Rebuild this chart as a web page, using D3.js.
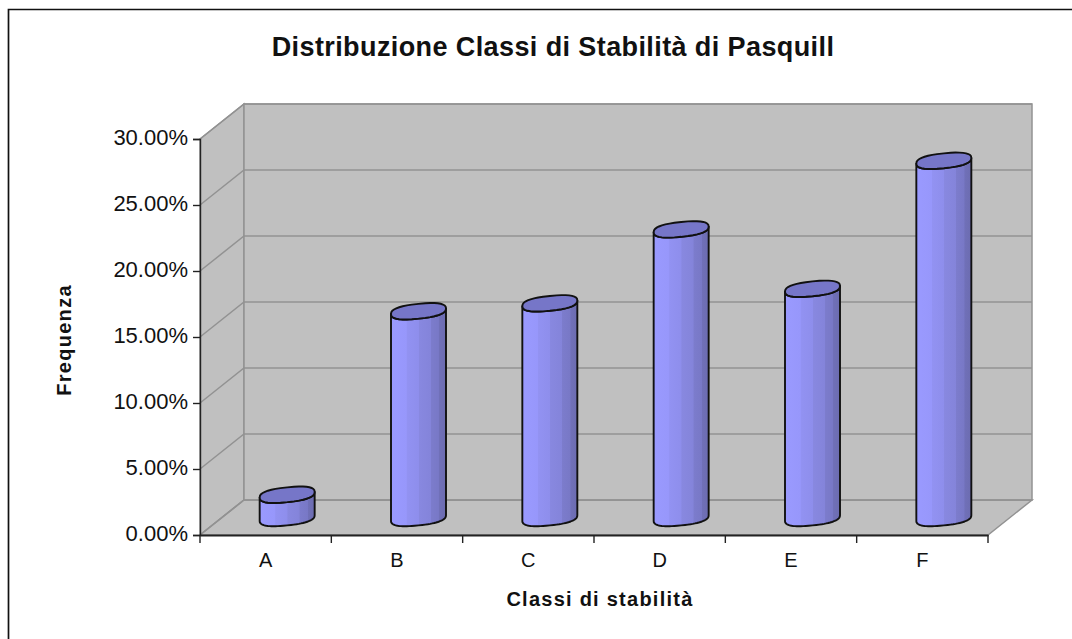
<!DOCTYPE html>
<html><head><meta charset="utf-8">
<style>html,body{margin:0;padding:0;background:#fff}svg{display:block}text{font-family:"Liberation Sans",Arial,sans-serif;fill:#111}</style>
<script src="https://cdn.jsdelivr.net/npm/d3@7"></script></head>
<body><svg id="c" width="1072" height="639"></svg>
<script>
const categories=["A","B","C","D","E","F"];
const frequencies=[1.8,15.7,16.3,21.9,17.4,27.1];
const yTicks=[0,5,10,15,20,25,30];
const titleText="Distribuzione Classi di Stabilità di Pasquill";
const xTitle="Classi di stabilità";
const yTitle="Frequenza";

const svg=d3.select("#c");
const x0=200,x1=988,yB=535,yT=139,dx=44,dy=-35;
const x=d3.scaleBand().domain(categories).range([x0,x1]);
const y=d3.scaleLinear().domain([0,30]).range([yB,yT]);

svg.append("path").attr("d","M8.5,640V9.5H1073").attr("fill","none").attr("stroke","#111").attr("stroke-width",1.7);

const defs=svg.append("defs");
const g=defs.append("linearGradient").attr("id","cyl");
[[0,"#9a9aff"],[.28,"#9797fb"],[.29,"#9292f2"],[.5,"#8e8eec"],[.51,"#8888e0"],[.72,"#8484da"],[.73,"#7c7ccc"],[.87,"#7878c6"],[.88,"#7070b8"],[1,"#6c6cb0"]].forEach(s=>g.append("stop").attr("offset",s[0]).attr("stop-color",s[1]));

const wall="#c0c0c0",edge="#929292";
const poly=p=>"M"+p.map(a=>a.join(",")).join("L")+"Z";
svg.append("path").attr("d",poly([[x0,yT],[x0+dx,yT+dy],[x0+dx,yB+dy],[x0,yB]])).attr("fill",wall).attr("stroke",edge).attr("stroke-width",1.5);
svg.append("path").attr("d",poly([[x0,yB],[x1,yB],[x1+dx,yB+dy],[x0+dx,yB+dy]])).attr("fill",wall).attr("stroke",edge).attr("stroke-width",1.5);
svg.append("path").attr("d",poly([[x0+dx,yT+dy],[x1+dx,yT+dy],[x1+dx,yB+dy],[x0+dx,yB+dy]])).attr("fill",wall).attr("stroke",edge).attr("stroke-width",1.5);
yTicks.forEach(t=>{
  svg.append("path").attr("d",`M${x0},${y(t)}L${x0+dx},${y(t)+dy}H${x1+dx}`).attr("fill","none").attr("stroke",edge).attr("stroke-width",1.5);
});

// axes
const axisY=d3.axisLeft(y).tickValues(yTicks).tickSize(7).tickPadding(5).tickFormat(d=>d.toFixed(2)+"%");
const gy=svg.append("g").attr("transform",`translate(${x0},0)`).call(axisY);
gy.selectAll("text").attr("font-size",22).attr("fill","#1a1a1a").attr("dy","0.24em");
gy.selectAll("line,path").attr("stroke","#222").attr("stroke-width",1.4);
const gx=svg.append("g").attr("transform",`translate(0,${yB})`).call(
  d3.axisBottom(x).tickSize(0).tickPadding(18));
gx.selectAll("text").attr("font-size",20).attr("fill","#1a1a1a");
gx.selectAll(".domain").attr("stroke","#222").attr("stroke-width",1.8);
categories.concat("_").forEach((c,i)=>{
  const px=x0+i*x.step();
  gx.append("line").attr("x1",px).attr("x2",px).attr("y1",0).attr("y2",8).attr("stroke","#222").attr("stroke-width",1.4);
});

// cylinders: rounded, slightly tilted ellipses in the middle of the floor depth
const rx=27.5,ry=7.4,sk=2.8,ex=0.8;
const sp=(v)=>Math.sign(v)*Math.pow(Math.abs(v),ex);
const pt=(cx,cy,t)=>{const c=sp(Math.cos(t)),s=sp(Math.sin(t));return [cx+rx*c,cy+ry*s-sk*c];};
const arc=(cx,cy,a,b)=>d3.range(0,37).map(i=>pt(cx,cy,a+(b-a)*i/36));
const line=d3.line();
categories.forEach((c,i)=>{
  const cx=x(c)+x.bandwidth()/2+dx/2-0.5, base=yB+dy/2+0.5, top=y(frequencies[i])+dy/2+1;
  const body=[...arc(cx,base,0,Math.PI),...arc(cx,top,Math.PI,0)];
  svg.append("path").attr("d",line(body)+"Z").attr("fill","url(#cyl)").attr("stroke","#111").attr("stroke-width",1.9).attr("stroke-linejoin","round");
  svg.append("path").attr("d",line(arc(cx,top,0,2*Math.PI))+"Z").attr("fill","#7676c8").attr("stroke","#111").attr("stroke-width",1.9);
});

svg.append("text").attr("x",553).attr("y",56).attr("text-anchor","middle").attr("font-size",27).attr("font-weight","bold").attr("letter-spacing",.4).text(titleText);
svg.append("text").attr("x",600).attr("y",606).attr("text-anchor","middle").attr("font-size",20).attr("font-weight","bold").attr("letter-spacing",1.25).text(xTitle);
svg.append("text").attr("transform","translate(71,340) rotate(-90)").attr("text-anchor","middle").attr("font-size",20).attr("font-weight","bold").attr("letter-spacing",1.3).text(yTitle);
</script></body></html>
